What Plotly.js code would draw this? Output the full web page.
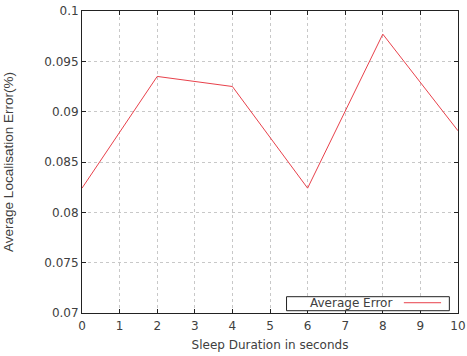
<!DOCTYPE html>
<html>
<head>
<meta charset="utf-8">
<script src="https://cdn.plot.ly/plotly-3.0.1.min.js"></script>
<style>html,body{margin:0;padding:0;background:#fff;}#chart{width:467px;height:356px;}</style>
</head>
<body>
<div id="chart"></div>
<script>
// Data
const sleepDuration = [0, 2, 4, 6, 8, 10];
const averageError = [0.0824, 0.0935, 0.0925, 0.0824, 0.0977, 0.0881];
const seriesName = 'Average Error';
const xTickVals = [0, 1, 2, 3, 4, 5, 6, 7, 8, 9, 10];
const yTickVals = [0.07, 0.075, 0.08, 0.085, 0.09, 0.095, 0.1];
const yTickText = ['0.07', '0.075', '0.08', '0.085', '0.09', '0.095', '0.1'];

const lineColor = '#e8414b';
const textColor = '#404040';
const fontFam = 'DejaVu Sans, sans-serif';

const trace = {
  x: sleepDuration,
  y: averageError,
  type: 'scatter',
  mode: 'lines',
  name: seriesName,
  line: {color: lineColor, width: 1},
  showlegend: false
};

const axisCommon = {
  showline: true, linecolor: '#222', linewidth: 1, mirror: 'ticks',
  ticks: 'inside', ticklen: 4, tickcolor: '#222', tickwidth: 1,
  showgrid: true, gridcolor: '#c8c8c8', griddash: 'dot', gridwidth: 1,
  zeroline: false,
  tickfont: {family: fontFam, size: 12, color: textColor}
};

const layout = {
  width: 467, height: 356,
  margin: {l: 82, r: 9, t: 11, b: 43},
  paper_bgcolor: '#fff', plot_bgcolor: '#fff',
  font: {family: fontFam, size: 12, color: textColor},
  xaxis: Object.assign({}, axisCommon, {
    range: [0, 10], tickvals: xTickVals, ticklabelstandoff: 2,
    title: {text: 'Sleep Duration in seconds', font: {family: fontFam, size: 12, color: textColor}, standoff: 8}
  }),
  yaxis: Object.assign({}, axisCommon, {
    range: [0.07, 0.1], tickvals: yTickVals, ticktext: yTickText,
    title: {text: 'Average Localisation Error(%)', font: {family: 'Liberation Sans, Arial, sans-serif', size: 13.5, color: textColor}, standoff: 27}
  }),
  annotations: [{
    xref: 'paper', yref: 'paper', x: 0.601, y: 0.0315, xanchor: 'left', yanchor: 'middle',
    text: seriesName, showarrow: false, align: 'left',
    font: {family: fontFam, size: 12, color: textColor}
  }],
  shapes: [{
    type: 'rect', xref: 'paper', yref: 'paper', x0: 0.544, x1: 0.977, y0: 0.0076, y1: 0.054,
    line: {color: '#222', width: 1}, fillcolor: '#fff', layer: 'above'
  }, {
    type: 'line', xref: 'paper', yref: 'paper', x0: 0.856, x1: 0.955, y0: 0.034, y1: 0.034,
    line: {color: lineColor, width: 1}, layer: 'above'
  }]
};

Plotly.newPlot('chart', [trace], layout, {displayModeBar: false, staticPlot: true});
</script>
</body>
</html>
